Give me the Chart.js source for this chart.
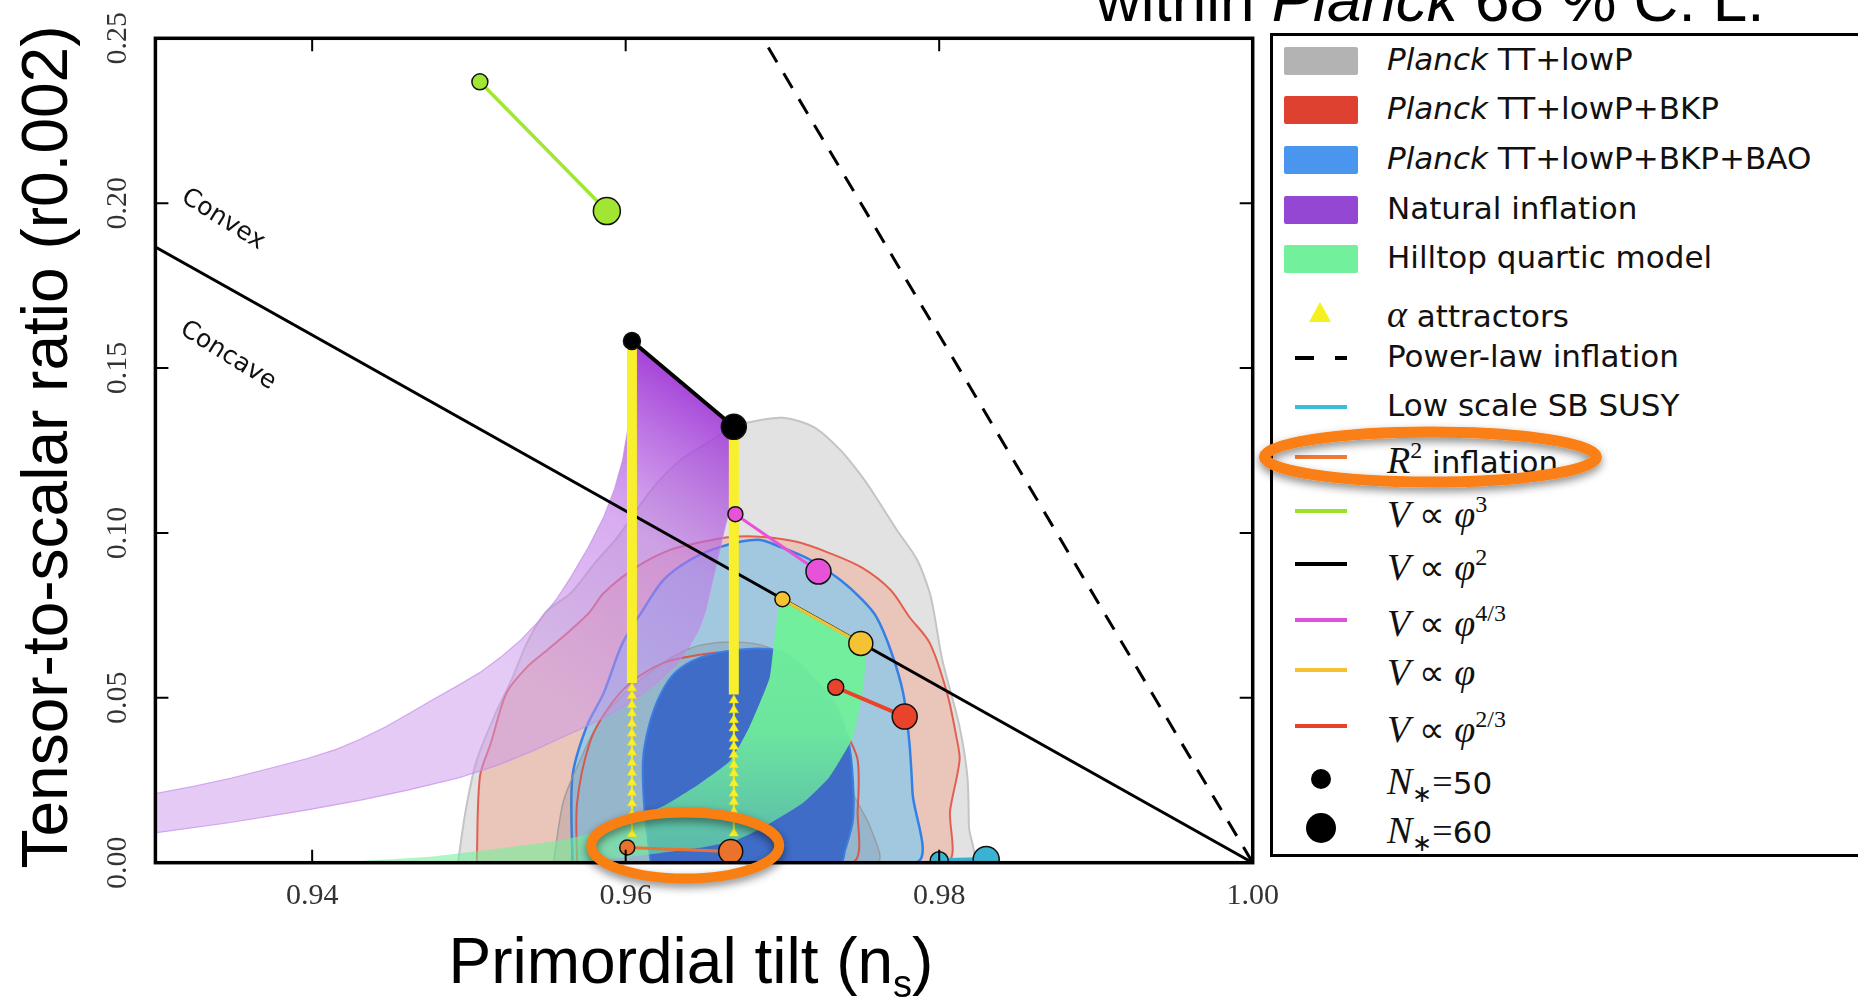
<!DOCTYPE html>
<html>
<head>
<meta charset="utf-8">
<script src="https://cdn.jsdelivr.net/npm/chart.js@4.4.1/dist/chart.umd.min.js"></script>
<style>
  html, body { margin: 0; padding: 0; background: #fff; }
  #wrap { position: relative; width: 1858px; height: 998px; overflow: hidden; }
  #chart { position: absolute; left: 0; top: 0; }
  .txt { position: absolute; white-space: nowrap; color: #000; }
  .lab { font: 25px 'DejaVu Sans'; color: #111; transform: translate(-50%, -50%) rotate(32deg); }
  #legendBox { position: absolute; left: 1270px; top: 33px; width: 640px; height: 824px; border: 3px solid #000; box-sizing: border-box; background: #fff; }
  .sw { position: absolute; left: 1284px; width: 74px; height: 28px; border-radius: 2px; }
  .ln { position: absolute; left: 1295px; width: 52px; height: 4px; }
  .dot { position: absolute; border-radius: 50%; background: #000; }
  .lt { position: absolute; left: 1387px; height: 40px; line-height: 40px; font: 31px 'DejaVu Sans'; color: #111; white-space: nowrap; }
  .m { font-family: 'Liberation Serif'; font-style: italic; font-size: 38px; }
  .r { font-family: 'Liberation Serif'; font-size: 36px; }
  .sup { font-family: 'Liberation Serif'; font-size: 24px; vertical-align: 15px; }
  .sub { font-family: 'Liberation Serif'; font-size: 24px; vertical-align: -8px; }
</style>
</head>
<body>
<div id="wrap">
<canvas id="chart" width="1858" height="998"></canvas>

<div class="txt" style="left:1096px; top:-31px; font:62px 'Liberation Sans'; line-height:62px;">within <i>Planck</i> 68 % C. L.</div>
<div class="txt" style="left:-405px; top:415px; width:900px; text-align:center; font:64px 'Liberation Sans'; line-height:64px; transform:rotate(-90deg);">Tensor-to-scalar ratio (r0.002)</div>
<div class="txt" style="left:691px; top:929px; transform:translateX(-50%); font:64px 'Liberation Sans'; line-height:64px;">Primordial tilt (n<span style="font-size:38px; position:relative; top:14px;">s</span>)</div>
<div class="txt lab" style="left:224px; top:218px;">Convex</div>
<div class="txt lab" style="left:229px; top:354px;">Concave</div>

<div id="legendBox"></div>
<div class="sw" style="top:47px; background:#b3b3b3;"></div>
<div class="sw" style="top:96px; background:#df4130;"></div>
<div class="sw" style="top:146px; background:#4a95ed;"></div>
<div class="sw" style="top:196px; background:#9347d2;"></div>
<div class="sw" style="top:245px; background:#72f09c;"></div>
<div style="position:absolute; left:1309px; top:302px; width:0; height:0; border-left:11px solid transparent; border-right:11px solid transparent; border-bottom:20px solid #f6f01e;"></div>
<div class="ln" style="top:356px; width:19px; background:#000;"></div>
<div class="ln" style="top:356px; left:1335px; width:12px; background:#000;"></div>
<div class="ln" style="top:405px; background:#3bbcd8;"></div>
<div class="ln" style="top:455px; background:#ef7a35;"></div>
<div class="ln" style="top:509px; background:#9be22d;"></div>
<div class="ln" style="top:562px; background:#000;"></div>
<div class="ln" style="top:618px; background:#e050d8;"></div>
<div class="ln" style="top:668px; background:#f5c033;"></div>
<div class="ln" style="top:724px; background:#e8412c;"></div>
<div class="dot" style="left:1311px; top:769px; width:20px; height:20px;"></div>
<div class="dot" style="left:1306px; top:813px; width:30px; height:30px;"></div>

<div class="lt" style="top:41px;"><i>Planck</i> TT+lowP</div>
<div class="lt" style="top:90px;"><i>Planck</i> TT+lowP+BKP</div>
<div class="lt" style="top:140px;"><i>Planck</i> TT+lowP+BKP+BAO</div>
<div class="lt" style="top:190px;">Natural inflation</div>
<div class="lt" style="top:239px;">Hilltop quartic model</div>
<div class="lt" style="top:292px;"><span class="m">α</span> attractors</div>
<div class="lt" style="top:338px;">Power-law inflation</div>
<div class="lt" style="top:387px;">Low scale SB SUSY</div>
<div class="lt" style="top:437px;"><span class="m">R</span><span class="sup">2</span> inflation</div>
<div class="lt" style="top:491px;"><span class="m">V</span><span class="r"> ∝ </span><span class="m">φ</span><span class="sup">3</span></div>
<div class="lt" style="top:544px;"><span class="m">V</span><span class="r"> ∝ </span><span class="m">φ</span><span class="sup">2</span></div>
<div class="lt" style="top:600px;"><span class="m">V</span><span class="r"> ∝ </span><span class="m">φ</span><span class="sup">4/3</span></div>
<div class="lt" style="top:650px;"><span class="m">V</span><span class="r"> ∝ </span><span class="m">φ</span></div>
<div class="lt" style="top:706px;"><span class="m">V</span><span class="r"> ∝ </span><span class="m">φ</span><span class="sup">2/3</span></div>
<div class="lt" style="top:759px;"><span class="m">N</span><span class="sub">∗</span><span class="r">=</span>50</div>
<div class="lt" style="top:808px;"><span class="m">N</span><span class="sub">∗</span><span class="r">=</span>60</div>

<svg width="1858" height="998" style="position:absolute; left:0; top:0; pointer-events:none;">
  <defs>
    <filter id="sh" x="-20%" y="-60%" width="140%" height="220%">
      <feDropShadow dx="0" dy="4" stdDeviation="4" flood-color="#000" flood-opacity="0.45"/>
    </filter>
  </defs>
  <ellipse cx="1430.5" cy="457" rx="166" ry="25" fill="none" stroke="#fa7f12" stroke-width="11" filter="url(#sh)"/>
</svg>
</div>

<script>
// axis ticks
const xTicks = [0.94, 0.96, 0.98, 1.00];
const yTicks = [0.00, 0.05, 0.10, 0.15, 0.20, 0.25];

// contours, [ns, r]
const planckTT95 = [[0.9493,0],[0.9498,0.0160],[0.9505,0.0311],[0.9518,0.0463],[0.9528,0.0563],[0.9537,0.0666],[0.9549,0.0760],[0.9565,0.0818],[0.9582,0.0918],[0.9595,0.0988],[0.9607,0.1070],[0.9620,0.1151],[0.9635,0.1221],[0.9652,0.1273],[0.9670,0.1327],[0.9679,0.1336],[0.9700,0.1349],[0.9720,0.1321],[0.9737,0.1251],[0.9751,0.1169],[0.9762,0.1091],[0.9773,0.1009],[0.9786,0.0918],[0.9794,0.0818],[0.9797,0.0750],[0.9802,0.0615],[0.9813,0.0412],[0.9818,0.0260],[0.9819,0.0108],[0.9820,0]];
const planckTT68 = [[0.9554,0],[0.9560,0.0181],[0.9569,0.0290],[0.9584,0.0433],[0.9609,0.0554],[0.9640,0.0648],[0.9667,0.0669],[0.9692,0.0651],[0.9718,0.0569],[0.9734,0.0478],[0.9739,0.0381],[0.9741,0.0311],[0.9745,0.0211],[0.9756,0.0108],[0.9760,0]];
const planckBKP95 = [[0.9505,0],[0.9507,0.0260],[0.9514,0.0363],[0.9524,0.0515],[0.9537,0.0593],[0.9550,0.0645],[0.9565,0.0706],[0.9577,0.0760],[0.9586,0.0818],[0.9607,0.0897],[0.9628,0.0948],[0.9649,0.0973],[0.9667,0.0988],[0.9688,0.0988],[0.9709,0.0973],[0.9730,0.0939],[0.9751,0.0894],[0.9769,0.0827],[0.9781,0.0745],[0.9794,0.0666],[0.9805,0.0515],[0.9811,0.0381],[0.9813,0.0311],[0.9807,0.0160],[0.9804,0]];
const planckBKP68 = [[0.9569,0],[0.9569,0.0181],[0.9577,0.0363],[0.9588,0.0463],[0.9603,0.0545],[0.9624,0.0606],[0.9646,0.0630],[0.9667,0.0639],[0.9694,0.0624],[0.9718,0.0560],[0.9734,0.0478],[0.9741,0.0393],[0.9748,0.0311],[0.9748,0.0160],[0.9744,0]];
const planckBAO95 = [[0.9566,0],[0.9566,0.0260],[0.9575,0.0412],[0.9586,0.0515],[0.9598,0.0666],[0.9611,0.0766],[0.9624,0.0857],[0.9641,0.0918],[0.9660,0.0957],[0.9684,0.0979],[0.9699,0.0957],[0.9718,0.0918],[0.9737,0.0857],[0.9751,0.0797],[0.9760,0.0745],[0.9769,0.0645],[0.9777,0.0515],[0.9781,0.0363],[0.9783,0.0211],[0.9785,0]];
const planckBAO68 = [[0.9616,0],[0.9612,0.0160],[0.9611,0.0311],[0.9615,0.0418],[0.9622,0.0509],[0.9632,0.0578],[0.9647,0.0621],[0.9670,0.0645],[0.9692,0.0648],[0.9705,0.0627],[0.9719,0.0563],[0.9734,0.0472],[0.9742,0.0372],[0.9745,0.0251],[0.9745,0.0129],[0.9740,0.0038],[0.9737,0]];

// model regions
const naturalInflation = [[0.9295,0.0205],[0.9325,0.0232],[0.9348,0.0256],[0.9372,0.0285],[0.9397,0.0316],[0.9415,0.0343],[0.9431,0.0375],[0.9447,0.0412],[0.9461,0.0450],[0.9478,0.0497],[0.9494,0.0540],[0.9508,0.0580],[0.9520,0.0622],[0.9533,0.0675],[0.9545,0.0735],[0.9556,0.0800],[0.9565,0.0866],[0.9576,0.0955],[0.9586,0.1048],[0.9593,0.1135],[0.9598,0.1221],[0.9601,0.1305],[0.9603,0.1388],[0.9604,0.1582],[0.9669,0.1322],[0.9669,0.1130],[0.9666,0.1065],[0.9663,0.1009],[0.9660,0.0948],[0.9657,0.0888],[0.9651,0.0766],[0.9647,0.0712],[0.9641,0.0660],[0.9633,0.0605],[0.9622,0.0554],[0.9609,0.0507],[0.9595,0.0463],[0.9578,0.0420],[0.9560,0.0381],[0.9540,0.0337],[0.9518,0.0295],[0.9494,0.0258],[0.9461,0.0220],[0.9431,0.0190],[0.9397,0.0160],[0.9348,0.0122],[0.9295,0.0087]];
const hilltopQuartic = [[0.9411,0],[0.9475,0.0018],[0.9518,0.0042],[0.9560,0.0069],[0.9584,0.0096],[0.9603,0.0133],[0.9624,0.0172],[0.9646,0.0236],[0.9667,0.0311],[0.9679,0.0412],[0.9692,0.0563],[0.9700,0.0795],[0.9750,0.0662],[0.9753,0.0615],[0.9751,0.0515],[0.9745,0.0381],[0.9730,0.0260],[0.9713,0.0181],[0.9688,0.0108],[0.9671,0.0069],[0.9647,0.0045],[0.9612,0.0023],[0.9584,0.0008],[0.9558,0]];

// straight lines
const concaveConvex = [[0.93, 0.1867], [1.00, 0]];
const powerLaw = [[0.9691, 0.2472], [1.00, 0]];

// models, [N*=50, N*=60]
const phi3 = [[0.9507, 0.2368], [0.9588, 0.1976]];
const phi2 = [[0.9604, 0.1582], [0.9669, 0.1322]];
const phi43 = [[0.9670, 0.1057], [0.9723, 0.0883]];
const phi1 = [[0.9700, 0.0799], [0.9750, 0.0665]];
const phi23 = [[0.9734, 0.0532], [0.9778, 0.0443]];
const r2Inflation = [[0.9601, 0.0046], [0.9667, 0.0034]];
const lowScaleSusy = [[0.9800, 0.0006], [0.9830, 0.0010]];

// alpha attractors
const alphaNs = [0.9604, 0.9669];
const alphaSolid = [[0.1560, 0.0545], [0.1300, 0.0510]];
const alphaLeftR = [0.0529, 0.0506, 0.0478, 0.0453, 0.0422, 0.0392, 0.0364, 0.0334, 0.0303, 0.0273, 0.0243, 0.0212, 0.0180, 0.0147, 0.0087];
const alphaRightR = [0.0493, 0.0463, 0.0433, 0.0408, 0.0377, 0.0352, 0.0327, 0.0296, 0.0271, 0.0241, 0.0210, 0.0185, 0.0155, 0.0089];

// hand-drawn highlight around R^2 points
const highlightAt = [0.9638, 0.0052];

const pts = arr => arr.map(([x, y]) => ({x, y}));
const closed = arr => pts(arr.concat([arr[0]]));

function poly(data, bg, border, bw, order, tension) {
    return {
        data: closed(data), showLine: true, fill: bg ? 'shape' : false,
        backgroundColor: bg || 'rgba(0,0,0,0)', borderColor: border, borderWidth: bw,
        pointRadius: 0, order: order, tension: tension === undefined ? 0.3 : tension
    };
}

function model(data, color, lw, order, small, big) {
    return {
        data: pts(data), showLine: true, borderColor: color, borderWidth: lw,
        pointRadius: [small, big], pointBackgroundColor: color,
        pointBorderColor: '#111', pointBorderWidth: 1.5, order: order
    };
}

function purpleFill(c) {
    const chart = c.chart;
    if (!chart.chartArea) return 'rgba(190,120,230,0.6)';
    const x = chart.scales.x, y = chart.scales.y;
    const g = chart.ctx.createLinearGradient(x.getPixelForValue(0.955), y.getPixelForValue(0.05),
                                             x.getPixelForValue(0.967), y.getPixelForValue(0.137));
    g.addColorStop(0, 'rgba(202,150,236,0.5)');
    g.addColorStop(0.55, 'rgba(190,116,230,0.6)');
    g.addColorStop(1, 'rgba(160,58,214,0.95)');
    return g;
}

function greenFill(c) {
    const chart = c.chart;
    if (!chart.chartArea) return 'rgba(112,240,154,0.9)';
    const y = chart.scales.y;
    const g = chart.ctx.createLinearGradient(0, y.getPixelForValue(0.08), 0, y.getPixelForValue(0));
    g.addColorStop(0, 'rgba(112,240,154,0.98)');
    g.addColorStop(0.5, 'rgba(112,240,154,0.92)');
    g.addColorStop(1, 'rgba(112,240,154,0.55)');
    return g;
}

const datasets = [
    poly(planckTT95, 'rgb(226,226,226)', 'rgb(196,196,196)', 2, 30),
    poly(planckBKP95, 'rgba(240,178,158,0.6)', 'rgb(226,96,82)', 2, 29),
    poly(planckBAO95, 'rgba(150,200,226,0.88)', 'rgb(52,128,230)', 2.5, 28),
    poly(planckTT68, 'rgba(110,110,128,0.2)', 'rgba(150,150,150,0.8)', 1.5, 27),
    poly(planckBKP68, null, 'rgb(214,88,78)', 2, 26),
    poly(planckBAO68, 'rgb(62,108,198)', 'rgb(58,126,226)', 2, 25),
    poly(naturalInflation, purpleFill, 'rgba(196,140,230,0.7)', 1.2, 24, 0),
    poly(hilltopQuartic, greenFill, 'rgba(0,0,0,0)', 0, 23, 0.15),
    { data: pts(concaveConvex), showLine: true, borderColor: '#000', borderWidth: 3, pointRadius: 0, order: 22 },
    { data: pts(powerLaw), showLine: true, borderColor: '#000', borderWidth: 3, borderDash: [17, 13], pointRadius: 0, order: 21 },
    { data: pts(alphaSolid[0].map(r => [alphaNs[0], r])), showLine: true, borderColor: '#f8f02c', borderWidth: 10, pointRadius: 0, order: 20 },
    { data: pts(alphaSolid[1].map(r => [alphaNs[1], r])), showLine: true, borderColor: '#f8f02c', borderWidth: 10, pointRadius: 0, order: 20 },
    { data: pts(alphaLeftR.map(r => [alphaNs[0], r])), showLine: true, borderColor: '#f5ec30', borderWidth: 2,
      pointStyle: 'triangle', pointRadius: 5.5, pointBackgroundColor: '#f9f02a', pointBorderColor: '#e6d80e', pointBorderWidth: 0.5, order: 19 },
    { data: pts(alphaRightR.map(r => [alphaNs[1], r])), showLine: true, borderColor: '#f5ec30', borderWidth: 2,
      pointStyle: 'triangle', pointRadius: 5.5, pointBackgroundColor: '#f9f02a', pointBorderColor: '#e6d80e', pointBorderWidth: 0.5, order: 19 },
    model(lowScaleSusy, '#3ab2d2', 5, 8, 9, 13),
    model(r2Inflation, '#eb722c', 3, 7, 7.5, 12),
    model(phi23, '#e9432b', 4, 6, 8, 12.5),
    model(phi1, '#f5c232', 3, 5, 7.5, 12),
    model(phi43, '#e653d8', 3, 4, 7.5, 12.5),
    model(phi3, '#a0e632', 3.5, 3, 8, 13.5),
    model(phi2, '#000', 4, 2, 8.5, 12.5)
];

const framePlugin = {
    id: 'frame',
    afterDatasetsDraw(chart) {
        const {ctx, chartArea: a, scales: {x, y}} = chart;
        ctx.save();
        ctx.strokeStyle = '#000';
        ctx.lineWidth = 2;
        ctx.beginPath();
        xTicks.forEach(v => {
            const px = x.getPixelForValue(v);
            ctx.moveTo(px, a.bottom); ctx.lineTo(px, a.bottom - 13);
            ctx.moveTo(px, a.top); ctx.lineTo(px, a.top + 13);
        });
        yTicks.forEach(v => {
            const py = y.getPixelForValue(v);
            ctx.moveTo(a.left, py); ctx.lineTo(a.left + 13, py);
            ctx.moveTo(a.right, py); ctx.lineTo(a.right - 13, py);
        });
        ctx.stroke();
        ctx.lineWidth = 3.5;
        ctx.strokeRect(a.left, a.top, a.right - a.left, a.bottom - a.top);

        ctx.fillStyle = '#333';
        ctx.font = '30px "Liberation Serif"';
        ctx.textAlign = 'center';
        ctx.textBaseline = 'middle';
        xTicks.forEach(v => ctx.fillText(v.toFixed(2), x.getPixelForValue(v), a.bottom + 33));
        yTicks.forEach(v => {
            ctx.save();
            ctx.translate(a.left - 37, y.getPixelForValue(v));
            ctx.rotate(-Math.PI / 2);
            ctx.fillText(v.toFixed(2), 0, 0);
            ctx.restore();
        });
        ctx.restore();
    },
    afterDraw(chart) {
        const {ctx, scales: {x, y}} = chart;
        const cx = x.getPixelForValue(highlightAt[0]);
        const cy = y.getPixelForValue(highlightAt[1]);
        ctx.save();
        ctx.shadowColor = 'rgba(0,0,0,0.45)';
        ctx.shadowBlur = 8;
        ctx.shadowOffsetY = 4;
        ctx.strokeStyle = '#fa7f12';
        ctx.lineWidth = 10;
        ctx.beginPath();
        ctx.ellipse(cx, cy, 94, 33, 0, 0, Math.PI * 2);
        ctx.stroke();
        ctx.restore();
    }
};

new Chart(document.getElementById('chart'), {
    type: 'scatter',
    data: { datasets: datasets },
    options: {
        responsive: false,
        animation: false,
        devicePixelRatio: 1,
        events: [],
        layout: { padding: { left: 155.4, right: 605.3, top: 38.3, bottom: 135.3 } },
        scales: {
            x: { type: 'linear', min: 0.93, max: 1.0, display: false },
            y: { type: 'linear', min: 0, max: 0.25, display: false }
        },
        plugins: { legend: { display: false }, tooltip: { enabled: false } }
    },
    plugins: [framePlugin]
});
</script>
</body>
</html>
